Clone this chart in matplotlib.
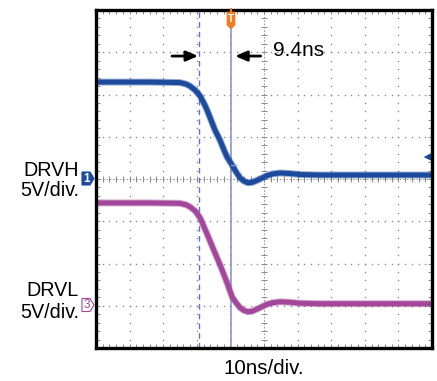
import numpy as np
import matplotlib
matplotlib.use("Agg")
import matplotlib.pyplot as plt
from matplotlib.patches import Polygon

plt.rcParams['font.family'] = ['Liberation Sans', 'DejaVu Sans']

# ---------------- data (read from the scope shot) ----------------
time_ns = [-50, -33.9, -25.0, -23.2, -22.0, -20.5, -19.0, -17.6, -16.7, -14.6,
           -13.1, -11.9, -11.0, -9.5, -8.3, -7.1, -6.0, -4.8, -3.6, -1.8,
           0.6, 2.4, 4.8, 7.7, 10.7, 16.7, 50]
drvh_v = [11.47, 11.47, 11.41, 11.23, 10.99, 10.52, 9.81, 8.75, 7.92, 5.79,
          4.6, 3.43, 2.6, 1.65, 0.83, 0.12, -0.24, -0.45, -0.41, -0.12,
          0.35, 0.59, 0.71, 0.65, 0.53, 0.47, 0.47]
drvl_v = [12.17, 12.17, 12.12, 11.95, 11.70, 11.22, 10.40, 9.10, 8.27, 6.26,
          4.85, 3.66, 2.72, 1.06, 0.35, -0.24, -0.55, -0.71, -0.66, -0.35,
          0.12, 0.35, 0.47, 0.41, 0.30, 0.24, 0.24]
volts_per_div = 5
ch1_offset_div = 0
ch3_offset_div = -3
cursor_a_ns = -19.2
cursor_b_ns = -9.8
delta_label = "9.4ns"
x_label = "10ns/div."
ch_labels = [("DRVH", "5V/div."), ("DRVL", "5V/div.")]

W, H = 437, 381
fig = plt.figure(figsize=(W / 100, H / 100), dpi=100)
ax = fig.add_axes([96 / W, 1 - 348 / H, 336 / W, 338 / H])
ax.set_xlim(-50, 50)
ax.set_ylim(-4, 4)

grid_c = '#8a8a8a'
# dotted graticule
minor_x = np.arange(-50, 50.01, 2)
minor_y = np.arange(-4, 4.01, 0.2)
for gx in range(-40, 50, 10):
    if gx == 0:
        continue
    ax.plot(np.full(minor_y.size, gx), minor_y, ls='none', marker='s',
            ms=1.0, color=grid_c, mec='none', zorder=1)
for gy in range(-3, 4):
    if gy == 0:
        continue
    ax.plot(minor_x, np.full(minor_x.size, gy), ls='none', marker='s',
            ms=1.0, color=grid_c, mec='none', zorder=1)
# centre cross lines with ticks
ax.plot([-50, 50], [0, 0], color=grid_c, lw=0.6, ls=(0, (2, 2)), zorder=1)
ax.plot([0, 0], [-4, 4], color=grid_c, lw=0.6, ls=(0, (2, 2)), zorder=1)
ax.plot(minor_x, np.zeros(minor_x.size), ls='none', marker='|', ms=4,
        mew=0.7, color=grid_c, zorder=1)
ax.plot(np.zeros(minor_y.size), minor_y, ls='none', marker='_', ms=4,
        mew=0.7, color=grid_c, zorder=1)

ax.set_xticks(minor_x)
ax.set_yticks(minor_y)
ax.tick_params(direction='in', length=3, width=0.7, color=grid_c,
               top=True, right=True, labelbottom=False, labelleft=False)
for s in ax.spines.values():
    s.set_linewidth(2.4)
    s.set_color('black')
    s.set_zorder(10)

# cursors
ax.axvline(cursor_a_ns, color='#6272b8', lw=1.0, ls=(0, (4, 3)), zorder=2)
ax.axvline(cursor_b_ns, color='#8d98cc', lw=1.2, zorder=2)

# traces
blue = '#1c4a9c'
pink = '#a2479a'
hy = np.array(drvh_v) / volts_per_div + ch1_offset_div
ly = np.array(drvl_v) / volts_per_div + ch3_offset_div
ax.plot(time_ns, hy, color=blue, lw=5.0, alpha=0.45, solid_joinstyle='round',
        solid_capstyle='butt', zorder=3)
ax.plot(time_ns, hy, color=blue, lw=3.6, solid_joinstyle='round', zorder=4)
ax.plot(time_ns, ly, color=pink, lw=5.0, alpha=0.45, solid_joinstyle='round',
        solid_capstyle='butt', zorder=3)
ax.plot(time_ns, ly, color=pink, lw=3.6, solid_joinstyle='round', zorder=4)

# cursor intersection tick
ax.plot([cursor_b_ns, cursor_b_ns + 1.6], [0.33, 0.33], color='#8d98cc',
        lw=1.0, zorder=5)

# delta-t arrows
arr_y = 2.91
ax.annotate('', xy=(-19.6, arr_y), xytext=(-27.4, arr_y),
            arrowprops=dict(arrowstyle='-|>,head_length=0.7,head_width=0.3',
                            color='black', lw=2.0, shrinkA=0, shrinkB=0),
            zorder=6)
ax.annotate('', xy=(-8.6, arr_y), xytext=(-1.0, arr_y),
            arrowprops=dict(arrowstyle='-|>,head_length=0.7,head_width=0.3',
                            color='black', lw=2.0, shrinkA=0, shrinkB=0),
            zorder=6)
ax.text(2.7, 3.04, delta_label, fontsize=15, ha='left', va='center', zorder=6)

# labels outside
fig.text(264 / W, 1 - 369 / H, x_label, fontsize=14.8, ha='center', va='center')
fs = 14.2
fig.text(79 / W, 1 - 170 / H, ch_labels[0][0], fontsize=fs, ha='right', va='center')
fig.text(79 / W, 1 - 191 / H, ch_labels[0][1], fontsize=fs, ha='right', va='center')
fig.text(79 / W, 1 - 291 / H, ch_labels[1][0], fontsize=fs, ha='right', va='center')
fig.text(79 / W, 1 - 312 / H, ch_labels[1][1], fontsize=fs, ha='right', va='center')

# channel markers (figure pixel coords)
def px(x, y):
    return (x / W, 1 - y / H)

m1 = Polygon([px(82, 172), px(90, 172), px(94, 178.5), px(90, 185), px(82, 185)],
             closed=True, transform=fig.transFigure, facecolor=blue,
             edgecolor=blue, lw=0.8, zorder=20)
fig.add_artist(m1)
fig.text(87 / W, 1 - 178.5 / H, '1', color='white', fontsize=8.5,
         fontweight='bold', ha='center', va='center', zorder=25)
m3 = Polygon([px(82, 298.5), px(90, 298.5), px(94, 305), px(90, 311.5), px(82, 311.5)],
             closed=True, transform=fig.transFigure, facecolor='white',
             edgecolor=pink, lw=0.8, zorder=20)
fig.add_artist(m3)
fig.text(87 / W, 1 - 305 / H, '3', color=pink, fontsize=8.5,
         ha='center', va='center', zorder=25)

# trigger marker
orange = '#ef7d22'
tx = 231
mt = Polygon([px(tx - 4, 12), px(tx + 4, 12), px(tx + 4, 25), px(tx, 29), px(tx - 4, 25)],
             closed=True, transform=fig.transFigure, facecolor=orange,
             edgecolor=orange, lw=0.5, zorder=20)
fig.add_artist(mt)
fig.add_artist(plt.Line2D([tx / W, tx / W], [1 - 9 / H, 1 - 12 / H],
                          transform=fig.transFigure, color=orange, lw=1.5))
fig.text(tx / W, 1 - 19.5 / H, 'T', color='white', fontsize=7,
         fontweight='bold', ha='center', va='center', zorder=25)

# ch1 reference arrow on right
ax.annotate('', xy=(47.5, 0.52), xytext=(49.3, 0.52),
            arrowprops=dict(arrowstyle='-|>,head_length=0.4,head_width=0.2',
                            color=blue, lw=1.0, shrinkA=0, shrinkB=0), zorder=6)

fig.savefig('out.png', dpi=100)
